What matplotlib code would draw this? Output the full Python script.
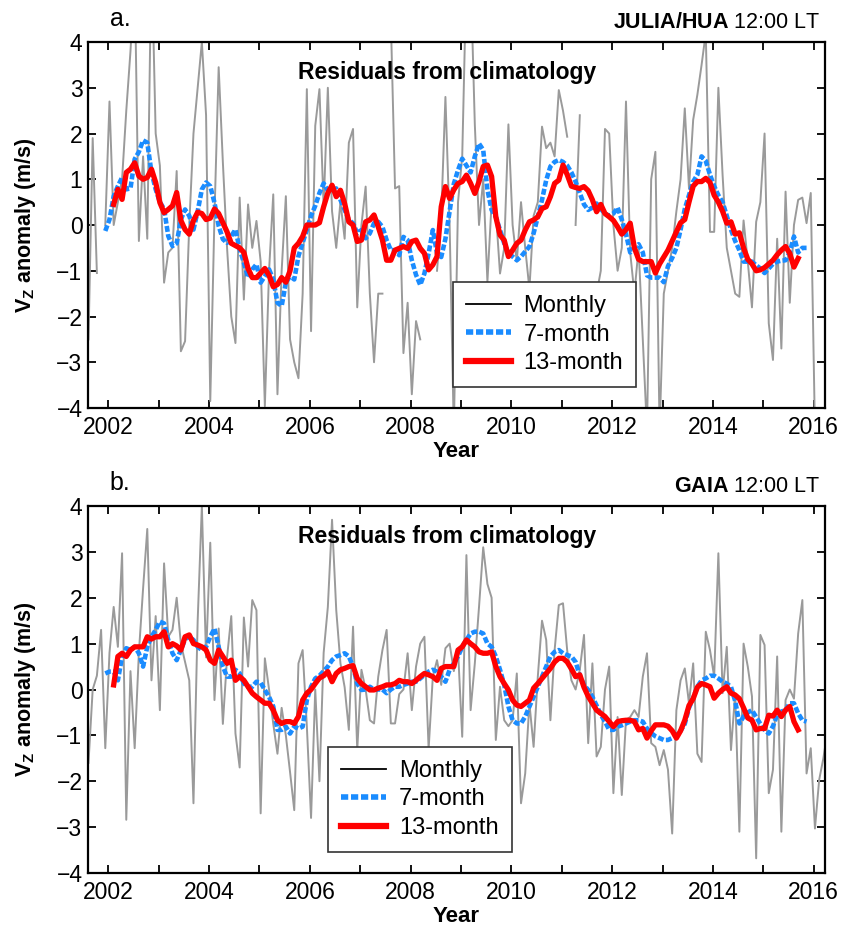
import numpy as np
import matplotlib
matplotlib.use('Agg')
import matplotlib.pyplot as plt
from matplotlib.lines import Line2D

plt.rcParams['font.family'] = ['Liberation Sans', 'DejaVu Sans']
plt.rcParams['mathtext.fontset'] = 'custom'
plt.rcParams['mathtext.rm'] = 'Liberation Sans'
plt.rcParams['mathtext.bf'] = 'Liberation Sans:bold'
plt.rcParams['axes.unicode_minus'] = True

nan = np.nan
start_year = 2001.607   # first monthly sample

# ---- panel a: JULIA/HUA ----
julia_monthly = [
    -2.5, 1.9, -1.05, nan, 0.0, 2.7, 0.0, 0.5, 1.0, 2.5, 3.8, 5.5,
    -0.35, 1.5, -0.3, 6.0, 2.0, 1.3, -1.26, -0.6, -0.5, 1.18, -2.76, -2.54,
    0.0, 2.0, 3.0, 4.0, 2.4, -3.85, 0.2, 3.45, 1.37, -0.5, -2.0, -2.58,
    0.6, -1.63, 0.45, -0.5, 0.09, -0.8, -3.96, -1.0, 0.67, -3.7, -1.0, 0.63,
    -2.5, -3.0, -3.35, -1.5, 2.97, -2.32, 2.17, 2.97, 0.4, 3.0, 0.3, -0.5,
    0.5, -0.3, 1.8, 2.1, -1.8, 0.0, 0.84, -1.5, -3.0, -1.5, -1.5, nan,
    4.5, 0.8, 0.85, -2.8, -1.7, -3.7, -2.1, -2.5, nan, -1.9, nan, -1.0,
    0.2, 2.8, 0.0, -4.5, 0.5, 1.5, 5.5, 5.5, 2.2, 0.0, 1.0, -1.24,
    0.5, 0.3, -1.06, -0.5, 2.2, 0.0, -0.8, 0.5, -0.5, -1.4, 0.2, 0.5,
    2.15, 1.68, 1.8, 1.5, 2.95, 2.5, 1.93, nan, 0.0, 2.4, nan, 2.17,
    nan, -1.5, -1.0, 2.1, 2.0, 0.0, -1.0, -0.5, 2.7, -0.6, -1.5, -0.5,
    -2.5, -4.5, 1.0, 1.6, -4.5, -1.5, -1.0, -0.5, 0.3, 1.0, 2.55, 0.8,
    2.3, 2.85, 3.5, 4.2, -0.15, -0.15, 3.0, 1.1, -0.5, -1.0, -1.5, -1.57,
    0.1, -0.8, -1.8, 0.07, 0.5, 2.0, -2.15, -2.95, -0.3, -2.7, 0.73, -1.7,
    0.0, 0.55, 0.6, 0.04, 0.7, -4.5, -5.0, nan, nan,
]
julia_7mo_first = 4
julia_7mo = [
    -0.13, 0.12, 0.63, 0.85, 1.04, 0.78, 0.8, 1.44, 1.6, 1.85, 1.8, 1.15,
    0.78, 0.5, 0.35, -0.24, -0.46, -0.4, 0.12, 0.34, 0.2, -0.1, 0.3, 0.78,
    0.93, 0.85, 0.49, -0.02, -0.31, -0.39, -0.24, -0.1, -0.53, -0.82, -1.15, -0.97,
    -0.86, -1.26, -1.12, -0.97, -1.19, -1.7, -1.77, -1.26, -1.12, -1.19, -0.68, -0.39,
    -0.1, 0.2, 0.42, 0.7, 0.91, 0.75, 0.77, 0.8, 0.55, 0.33, 0.11, 0.04,
    -0.18, -0.11, -0.29, -0.18, 0.04, 0.07, -0.04, -0.33, -0.55, -0.55, -0.66, -0.26,
    -0.33, -0.77, -1.09, -1.31, -1.06, -0.62, -0.11, -0.62, -0.7, -0.3, 0.3, 0.9,
    1.2, 1.45, 1.3, 1.15, 1.5, 1.78, 1.64, 0.77, 0.33, 0.18, -0.11, -0.4,
    -0.62, -0.69, -0.77, -0.69, -0.58, -0.47, -0.18, 0.18, 0.55, 0.98, 1.28, 1.38,
    1.42, 1.38, 1.3, 1.15, 0.95, 0.7, 0.45, 0.33, 0.38, 0.47, 0.35, 0.25,
    0.2, 0.25, 0.38, 0.12, -0.2, -0.6, -0.5, -0.42, -0.6, -1.1, -1.15, -1.15,
    -1.15, -1.25, -0.9, -0.72, -0.5, -0.1, 0.35, 0.65, 0.95, 1.1, 1.5, 1.4,
    1.1, 0.85, 0.65, 0.5, 0.2, -0.1, -0.35, -0.55, -0.8, -0.8, -0.8, -0.88,
    -0.95, -1.05, -0.95, -0.85, -0.8, -0.78, -0.77, -0.6, -0.25, -0.6, -0.5, -0.5,
]
julia_13mo_first = 6
julia_13mo = [
    0.45, 0.78, 0.56, 1.15, 1.22, 1.36, 1.07, 1.0, 1.04, 1.22, 0.93, 0.49,
    0.27, 0.34, 0.42, 0.71, 0.1, -0.1, -0.2, 0.1, 0.28, 0.25, 0.12, 0.15,
    0.35, 0.25, 0.05, -0.15, -0.4, -0.45, -0.5, -0.6, -0.95, -1.15, -1.15, -1.05,
    -0.95, -1.1, -1.35, -1.3, -1.15, -1.25, -1.0, -0.5, -0.4, -0.25, 0.0, 0.0,
    0.0, 0.05, 0.4, 0.7, 0.87, 0.62, 0.76, 0.47, 0.07, 0.0, -0.36, -0.33,
    0.07, 0.11, 0.22, -0.04, -0.33, -0.77, -0.77, -0.55, -0.51, -0.47, -0.51, -0.36,
    -0.33, -0.51, -0.62, -0.98, -0.87, -0.69, 0.4, 0.84, 0.58, 0.77, 0.91, 0.95,
    1.09, 0.91, 0.69, 0.95, 1.28, 1.31, 1.06, 0.18, -0.22, -0.33, -0.69, -0.55,
    -0.4, -0.33, -0.11, 0.07, 0.11, 0.18, 0.36, 0.4, 0.62, 0.91, 0.98, 1.31,
    1.1, 0.85, 0.82, 0.8, 0.84, 0.75, 0.55, 0.29, 0.45, 0.25, 0.18, 0.1,
    -0.04, -0.2, -0.1, 0.04, -0.5, -0.75, -0.8, -0.8, -0.8, -1.05, -0.85, -0.7,
    -0.55, -0.35, -0.15, 0.05, 0.12, 0.5, 0.85, 0.95, 0.95, 1.02, 0.93, 0.65,
    0.5, 0.3, 0.04, 0.07, -0.2, -0.17, -0.5, -0.75, -0.85, -1.0, -0.98, -0.93,
    -0.85, -0.77, -0.65, -0.55, -0.47, -0.62, -0.92, -0.73,
]

# ---- panel b: GAIA ----
gaia_monthly = [
    -1.6, 0.0, 0.3, 1.3, -1.28, 0.8, 1.8, 0.93, 2.97, -2.84, 0.4, -1.28,
    0.8, 2.2, 3.5, 0.2, 1.6, -0.45, 2.75, 1.15, 1.3, 2.0, 1.0, 0.6,
    0.2, -2.48, 1.5, 4.0, 0.7, 3.2, -0.23, 1.33, -0.75, 0.7, 1.6, -0.96,
    -1.7, 1.57, 0.5, 1.95, 1.73, -2.7, 0.68, 0.0, -0.75, -1.4, -0.4, -1.0,
    -1.8, -2.63, 0.57, 0.86, -0.8, -2.8, 0.0, -2.0, 0.8, 1.8, 3.7, 1.73,
    0.57, 0.05, -0.88, 1.37, -1.32, 0.43, 0.0, -0.67, -0.74, 0.28, 0.86, 1.3,
    -0.74, -0.74, -0.1, 0.0, 0.79, -0.45, 0.5, 1.0, 1.15, -1.3, 0.28, 0.64,
    0.1, 0.9, 1.0, 0.4, 0.86, -1.03, 2.93, -0.45, 0.57, 1.8, 3.1, 2.3,
    2.0, -1.1, 0.06, -0.67, -0.8, -0.67, 0.35, -2.48, -1.83, -0.3, -1.25, 0.28,
    1.5, 1.08, -0.67, 0.86, 1.84, 1.88, 0.85, 0.2, 0.0, 0.43, 1.19, -1.17,
    0.57, -1.46, -1.25, 0.0, 0.5, -2.26, -0.6, -2.3, -0.66, -0.6, -0.45, -0.6,
    0.28, 0.79, -1.17, -1.25, -1.65, -1.32, -1.75, -3.14, -0.45, 0.2, 0.46, -0.3,
    0.57, -1.4, -1.58, 1.26, 0.86, 0.28, 2.97, -0.08, 0.93, -1.32, -0.08, -3.1,
    1.0, 0.5, -0.15, -3.68, 1.19, 0.97, -2.26, -1.75, 0.72, -3.1, -0.23, 0.0,
    -0.2, 1.22, 1.95, -1.83, -1.28, -3.03, -1.97, -1.5, -0.9,
]
gaia_7mo_first = 4
gaia_7mo = [
    0.35, 0.39, 0.39, 0.2, 0.72, 0.9, 0.86, 0.93, 0.79, 0.5, 0.93, 1.15,
    1.3, 1.48, 1.44, 1.08, 0.79, 0.64, 0.86, 1.1, 1.15, 1.08, 0.93, 0.86,
    0.93, 1.15, 1.33, 0.93, 0.5, 0.28, 0.28, 0.43, 0.35, 0.13, 0.06, 0.06,
    0.17, 0.15, -0.01, -0.16, -0.37, -0.88, -0.88, -0.81, -0.96, -0.81, -0.85, -0.81,
    -0.23, 0.06, 0.24, 0.3, 0.4, 0.5, 0.64, 0.72, 0.75, 0.79, 0.72, 0.5,
    0.13, -0.01, 0.0, 0.06, 0.0, 0.0, 0.0, -0.08, 0.0, 0.06, 0.06, 0.1,
    0.13, 0.17, 0.17, 0.24, 0.32, 0.39, 0.43, 0.39, 0.28, 0.17, 0.43, 0.57,
    0.72, 0.93, 1.08, 1.22, 1.26, 1.26, 1.22, 1.0, 0.93, 0.72, 0.43, 0.1,
    -0.37, -0.67, -0.74, -0.74, -0.59, -0.37, -0.16, 0.06, 0.28, 0.5, 0.72, 0.82,
    0.86, 0.79, 0.75, 0.72, 0.6, 0.3, 0.1, -0.01, -0.16, -0.35, -0.55, -0.7,
    -0.88, -0.88, -0.81, -0.78, -0.74, -0.7, -0.67, -0.67, -0.7, -0.85, -0.95, -1.02,
    -1.06, -1.1, -1.1, -1.06, -0.99, -0.9, -0.75, -0.4, -0.19, 0.06, 0.2, 0.24,
    0.3, 0.3, 0.24, 0.17, 0.13, 0.06, -0.25, -0.74, -0.59, -0.5, -0.45, -0.6,
    -0.75, -0.88, -0.96, -0.8, -0.55, -0.48, -0.45, -0.3, -0.3, -0.52, -0.67, -0.7,
]
gaia_13mo_first = 6
gaia_13mo = [
    0.1, 0.72, 0.79, 0.72, 0.86, 0.93, 0.93, 0.93, 1.15, 1.1, 1.15, 1.15,
    1.26, 0.93, 1.0, 0.95, 0.86, 1.15, 1.19, 1.0, 0.97, 0.93, 0.86, 0.64,
    0.57, 0.86, 0.72, 0.57, 0.64, 0.2, 0.28, 0.2, 0.06, -0.08, -0.16, -0.23,
    -0.3, -0.3, -0.45, -0.67, -0.74, -0.7, -0.7, -0.74, -0.59, -0.23, -0.08, 0.0,
    0.13, 0.25, 0.3, 0.39, 0.17, 0.35, 0.43, 0.46, 0.5, 0.52, 0.24, 0.13,
    0.06, -0.01, -0.01, 0.03, 0.06, 0.1, 0.1, 0.13, 0.2, 0.17, 0.17, 0.13,
    0.2, 0.28, 0.35, 0.32, 0.28, 0.2, 0.46, 0.5, 0.5, 0.5, 0.86, 0.93,
    1.08, 1.0, 0.93, 0.82, 0.79, 0.79, 0.82, 0.5, 0.28, 0.13, -0.01, -0.23,
    -0.34, -0.37, -0.3, -0.23, 0.03, 0.13, 0.24, 0.35, 0.46, 0.6, 0.68, 0.68,
    0.6, 0.45, 0.28, 0.32, 0.05, -0.15, -0.3, -0.45, -0.52, -0.59, -0.7, -0.81,
    -0.7, -0.68, -0.67, -0.67, -0.7, -0.88, -0.85, -1.06, -0.9, -0.77, -0.77, -0.77,
    -0.8, -0.9, -1.06, -0.9, -0.67, -0.35, -0.2, 0.05, 0.13, 0.1, 0.06, -0.19,
    -0.08, 0.0, 0.06, -0.08, -0.12, -0.2, -0.4, -0.62, -0.67, -0.88, -0.85, -0.85,
    -0.56, -0.58, -0.45, -0.59, -0.45, -0.37, -0.7, -0.88,
]

panels = [
    ('a.', 'JULIA/HUA', julia_monthly, julia_7mo_first, julia_7mo,
     julia_13mo_first, julia_13mo, (0.495, 0.057)),
    ('b.', 'GAIA', gaia_monthly, gaia_7mo_first, gaia_7mo,
     gaia_13mo_first, gaia_13mo, (0.326, 0.057)),
]

gray = '#9a9a9a'
blue = '#1a8cff'
red = '#ff0000'
dash7 = (1.3, 0.5)

fig = plt.figure(figsize=(8.46, 9.30), dpi=100)
ax_boxes = [[0.104, 0.5613, 0.871, 0.3935], [0.104, 0.0613, 0.871, 0.3946]]

for box, (tag, site, monthly, f7, s7, f13, s13, leg_pos) in zip(ax_boxes, panels):
    ax = fig.add_axes(box)
    t = start_year + np.arange(len(monthly)) / 12.0
    ax.plot(t, monthly, color=gray, lw=1.4)
    ax.plot(t[f7:f7 + len(s7)], s7, color=blue, lw=3.3, dashes=dash7)
    ax.plot(t[f13:f13 + len(s13)], s13, color=red, lw=3.8, solid_joinstyle='round')

    ax.set_xlim(2001.597, 2016.22)
    ax.set_ylim(-4, 4)
    ax.set_xticks(np.arange(2002, 2017, 1))
    ax.set_xticklabels([str(y) if y % 2 == 0 else '' for y in range(2002, 2017)])
    ax.set_yticks(np.arange(-4, 5, 1))
    ax.tick_params(direction='in', length=6, width=1.3, top=True, right=True,
                   labelsize=16.5)
    ax.tick_params(axis='x', pad=6)
    ax.tick_params(axis='y', pad=4)
    for sp in ax.spines.values():
        sp.set_linewidth(1.6)

    ax.set_xlabel('Year', fontsize=16, fontweight='bold', labelpad=1)
    ax.set_ylabel(r'V$_\mathbf{Z}$ anomaly (m/s)', fontsize=15.5, fontweight='bold',
                  labelpad=13)
    ax.text(0.487, 0.918, 'Residuals from climatology', transform=ax.transAxes,
            ha='center', va='center', fontsize=16.5, fontweight='bold')

    handles = [Line2D([], [], color='black', lw=1.3),
               Line2D([], [], color=blue, lw=4.0, dashes=dash7),
               Line2D([], [], color=red, lw=4.5)]
    leg = ax.legend(handles, ['Monthly', '7-month', '13-month'],
                    loc='lower left', bbox_to_anchor=leg_pos, fontsize=17,
                    frameon=True, fancybox=False, framealpha=1, edgecolor='#333333',
                    borderpad=0.55, labelspacing=0.28, handlelength=1.9,
                    handletextpad=0.55, borderaxespad=0)
    leg.get_frame().set_linewidth(1.2)

    top = box[1] + box[3]
    fig.text(0.142, top + 0.012, tag, fontsize=18, ha='center', va='bottom')
    fig.text(0.969, top + 0.01, r'$\mathbf{' + site + r'}$ 12:00 LT',
             fontsize=15.5, ha='right', va='bottom')

fig.savefig('out.png', dpi=100)
